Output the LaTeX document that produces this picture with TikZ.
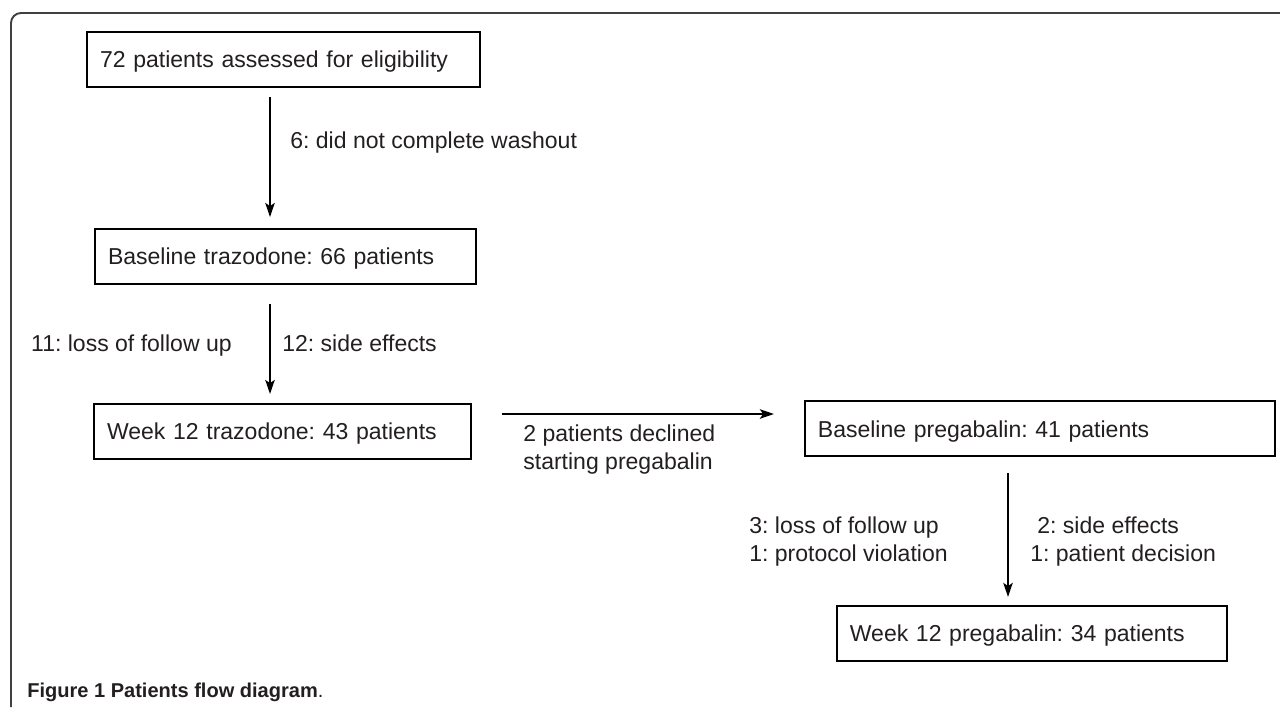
\documentclass[tikz,border=0pt]{standalone}
\usepackage{fontspec}
\setmainfont{Liberation Sans}
\frenchspacing
\usetikzlibrary{shapes,arrows,arrows.meta,positioning,calc}
\usepackage{xcolor}
\definecolor{ink}{HTML}{231F20}
\newcommand{\flowfont}{\fontsize{13.1}{15.9}\selectfont}
\newcommand{\capfont}{\fontsize{11.4}{13.6}\selectfont}
\tikzset{
    block/.style={rectangle, draw, align=left, inner xsep=0.26cm, inner ysep=0pt, text height=9.4pt, text depth=0pt, minimum height=1.1cm, font=\flowfont, text=ink, line width=1.1pt},
    line/.style={draw, -{Stealth[length=8pt, width=5.4pt, inset=1.8pt]}, line width=0.9pt},
    note/.style={inner sep=0pt, align=left, font=\flowfont, text=ink},
    caption/.style={inner sep=0pt, font=\capfont, text=ink},
    frame/.style={draw=black!75, line width=1.1pt, rounded corners=0.2cm}
}

\begin{document}
\begin{tikzpicture}[x=0.02cm, y=-0.02cm]
    \useasboundingbox (0,0) rectangle (1280,707);
    \draw [frame] (11,707) -- (11,13) -- (1280,13);

    \node [block, text width=7.34cm] (elig) at (283.5,59.5) {72 patients assessed for eligibility};
    \node [block, text width=7.1cm, below of=elig, node distance=3.94cm, xshift=0.04cm] (base) {Baseline trazodone: 66 patients};
    \node [block, text width=7.02cm, below of=base, node distance=3.5cm, xshift=-0.06cm] (wk12t) {Week 12 trazodone: 43 patients};
    \node [block, text width=8.88cm, right of=wk12t, node distance=15.15cm, yshift=0.05cm] (basep) {Baseline pregabalin: 41 patients};
    \node [block, text width=7.28cm, below of=basep, node distance=4.09cm, xshift=-0.16cm] (wk12p) {Week 12 pregabalin: 34 patients};

    \coordinate (colA) at (270,0);
    \coordinate (colB) at (1008,0);
    \coordinate (rowB) at (0,414);

    \path [line, shorten <=0.18cm, shorten >=0.22cm] (elig.south -| colA) -- (base.north -| colA);
    \path [line, shorten <=0.38cm, shorten >=0.18cm] (base.south -| colA) -- (wk12t.north -| colA);
    \path [line, shorten <=0.6cm, shorten >=0.6cm] (wk12t.east |- rowB) -- (basep.west |- rowB);
    \path [line, shorten <=0.32cm, shorten >=0.16cm] (basep.south -| colB) -- (wk12p.north -| colB);

    \node [note, anchor=base west] (wash) at (290,148) {6: did not complete washout};
    \node [note, anchor=base east] (lossA) at (232,351) {11: loss of follow up};
    \node [note, anchor=base west] (sideA) at (282,351) {12: side effects};
    \node [note, anchor=west] (declined) at (523,450) {2 patients declined\\starting pregabalin};
    \node [note, anchor=west] (lossB) at (749,542) {3: loss of follow up\\1: protocol violation};
    \node [note, anchor=west] (sideB) at (1030,542) {\hspace{0.14cm}2: side effects\\1: patient decision};

    \node [caption, anchor=base west] (cap) at (27,697) {\textbf{Figure 1 Patients flow diagram}.};
\end{tikzpicture}
\end{document}
